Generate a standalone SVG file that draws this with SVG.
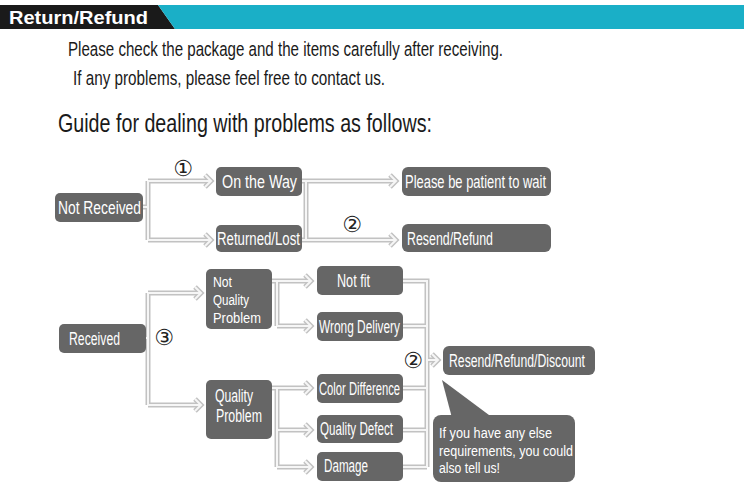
<svg xmlns="http://www.w3.org/2000/svg" xmlns:xlink="http://www.w3.org/1999/xlink" width="750" height="488" viewBox="0 0 750 488">
<style>
.node{fill:#666666;}
.nt{font-family:"Liberation Sans",Arial,sans-serif;font-size:17.5px;fill:#ffffff;}
.ml{font-size:15.5px;}
.ht{font-family:"Liberation Sans",Arial,sans-serif;fill:#1a1a1a;}
.num{font-family:"DejaVu Sans","Noto Sans CJK SC",sans-serif;font-size:22px;fill:#222222;text-anchor:middle;}
.outer{fill:none;stroke:#c2c2c2;stroke-width:5;stroke-linejoin:miter;}
.inner{fill:none;stroke:#f6f6f6;stroke-width:2;stroke-linejoin:miter;}
</style>
<defs>
<path id="c1" d="M143,207 H148 M148,181 V240 M148,181 H211 M148,240 H211"/>
<path id="a1" d="M205,175 L211,181 L205,187 M205,234 L211,240 L205,246"/>
<path id="c2" d="M302,181 H306 V240 M302,240 H306 M306,181 H396 M306,240 H396"/>
<path id="a2" d="M390,175 L396,181 L390,187 M390,234 L396,240 L390,246"/>
<path id="c3" d="M146,338 H148 M148,293 V405 M148,293 H201 M148,405 H201"/>
<path id="a3" d="M195,287 L201,293 L195,299 M195,399 L201,405 L195,411"/>
<path id="c4" d="M272,281 H277 V326 M277,281 H311 M277,326 H311"/>
<path id="a4" d="M305,275 L311,281 L305,287 M305,320 L311,326 L305,332"/>
<path id="c5" d="M272,388 H277 V467 M277,388 H311 M277,430 H311 M277,467 H311"/>
<path id="a5" d="M305,382 L311,388 L305,394 M305,424 L311,430 L305,436 M305,461 L311,467 L305,473"/>
<path id="c6" d="M403,281 H427 V467 M403,326 H427 M403,388 H427 M403,430 H427 M403,467 H427 M427,360 H437"/>
<path id="a6" d="M432,354 L438,360 L432,366"/>
</defs>
<g id="header">
<polygon points="0,5 158,5 175,29 0,29" fill="#1a1a1a"/>
<polygon points="158,5 744,5 744,29 175,29" fill="#1aafc7"/>
<text x="9" y="24" font-family="Liberation Sans,Arial,sans-serif" font-size="19" font-weight="bold" fill="#ffffff" textLength="139" lengthAdjust="spacingAndGlyphs">Return/Refund</text>
<text class="ht" x="68" y="56" font-size="20.5" textLength="435" lengthAdjust="spacingAndGlyphs">Please check the package and the items carefully after receiving.</text>
<text class="ht" x="73" y="85" font-size="20.5" textLength="312" lengthAdjust="spacingAndGlyphs">If any problems, please feel free to contact us.</text>
<text class="ht" x="58" y="132" font-size="25" textLength="374" lengthAdjust="spacingAndGlyphs">Guide for dealing with problems as follows:</text>
</g>
<g id="connectors">
<use xlink:href="#c1" class="outer"/><use xlink:href="#a1" class="outer"/>
<use xlink:href="#c2" class="outer"/><use xlink:href="#a2" class="outer"/>
<use xlink:href="#c3" class="outer"/><use xlink:href="#a3" class="outer"/>
<use xlink:href="#c4" class="outer"/><use xlink:href="#a4" class="outer"/>
<use xlink:href="#c5" class="outer"/><use xlink:href="#a5" class="outer"/>
<use xlink:href="#c6" class="outer"/><use xlink:href="#a6" class="outer"/>
<use xlink:href="#c1" class="inner"/><use xlink:href="#a1" class="inner"/>
<use xlink:href="#c2" class="inner"/><use xlink:href="#a2" class="inner"/>
<use xlink:href="#c3" class="inner"/><use xlink:href="#a3" class="inner"/>
<use xlink:href="#c4" class="inner"/><use xlink:href="#a4" class="inner"/>
<use xlink:href="#c5" class="inner"/><use xlink:href="#a5" class="inner"/>
<use xlink:href="#c6" class="inner"/><use xlink:href="#a6" class="inner"/>
<text class="num" x="183" y="176">①</text>
<text class="num" x="352" y="232">②</text>
<text class="num" x="164" y="345">③</text>
<text class="num" x="413" y="368">②</text>
</g>
<g id="not-received"><rect class="node" x="55" y="193" width="88" height="29" rx="5"/><text class="nt" x="58" y="214" textLength="83" lengthAdjust="spacingAndGlyphs">Not Received</text></g>
<g id="on-the-way"><rect class="node" x="216" y="167" width="86" height="29" rx="5"/><text class="nt" x="222" y="188" textLength="75" lengthAdjust="spacingAndGlyphs">On the Way</text></g>
<g id="returned-lost"><rect class="node" x="216" y="225" width="86" height="27" rx="5"/><text class="nt" x="217" y="245" textLength="83" lengthAdjust="spacingAndGlyphs">Returned/Lost</text></g>
<g id="patient"><rect class="node" x="402" y="167" width="149" height="29" rx="6"/><text class="nt" x="405" y="188" textLength="141" lengthAdjust="spacingAndGlyphs">Please be patient to wait</text></g>
<g id="resend-refund"><rect class="node" x="402" y="224" width="149" height="28" rx="6"/><text class="nt" x="407" y="245" textLength="86" lengthAdjust="spacingAndGlyphs">Resend/Refund</text></g>
<g id="received"><rect class="node" x="59" y="324" width="87" height="29" rx="5"/><text class="nt" x="69" y="345" textLength="51" lengthAdjust="spacingAndGlyphs">Received</text></g>
<g id="not-quality-problem"><rect class="node" x="206" y="269" width="66" height="60" rx="5"/>
<text class="nt ml" x="213" y="287" textLength="19" lengthAdjust="spacingAndGlyphs">Not</text>
<text class="nt ml" x="213" y="305" textLength="36" lengthAdjust="spacingAndGlyphs">Quality</text>
<text class="nt ml" x="213" y="323" textLength="48" lengthAdjust="spacingAndGlyphs">Problem</text></g>
<g id="not-fit"><rect class="node" x="317" y="266" width="86" height="29" rx="5"/><text class="nt" x="337" y="287" textLength="33" lengthAdjust="spacingAndGlyphs">Not fit</text></g>
<g id="wrong-delivery"><rect class="node" x="317" y="312" width="86" height="29" rx="5"/><text class="nt" x="319" y="333" textLength="81" lengthAdjust="spacingAndGlyphs">Wrong Delivery</text></g>
<g id="quality-problem"><rect class="node" x="206" y="380" width="66" height="59" rx="5"/>
<text class="nt" x="215" y="402" textLength="38" lengthAdjust="spacingAndGlyphs">Quality</text>
<text class="nt" x="216" y="422" textLength="46" lengthAdjust="spacingAndGlyphs">Problem</text></g>
<g id="color-difference"><rect class="node" x="317" y="374" width="86" height="29" rx="5"/><text class="nt" x="319" y="395" textLength="81" lengthAdjust="spacingAndGlyphs">Color Difference</text></g>
<g id="quality-defect"><rect class="node" x="317" y="415" width="86" height="28" rx="5"/><text class="nt" x="320" y="435" textLength="73" lengthAdjust="spacingAndGlyphs">Quality Defect</text></g>
<g id="damage"><rect class="node" x="317" y="452" width="86" height="29" rx="5"/><text class="nt" x="324" y="472" textLength="44" lengthAdjust="spacingAndGlyphs">Damage</text></g>
<g id="resend-refund-discount"><rect class="node" x="443" y="346" width="152" height="29" rx="6"/><text class="nt" x="449" y="367" textLength="136" lengthAdjust="spacingAndGlyphs">Resend/Refund/Discount</text></g>
<g id="bubble"><polygon class="node" points="442,380 452,418 493,418"/><rect class="node" x="433" y="415" width="142" height="67" rx="8"/>
<text class="nt ml" x="439" y="438" textLength="113" lengthAdjust="spacingAndGlyphs">If you have any else</text>
<text class="nt ml" x="439" y="456" textLength="134" lengthAdjust="spacingAndGlyphs">requirements, you could</text>
<text class="nt ml" x="439" y="473" textLength="61" lengthAdjust="spacingAndGlyphs">also tell us!</text></g>
</svg>
